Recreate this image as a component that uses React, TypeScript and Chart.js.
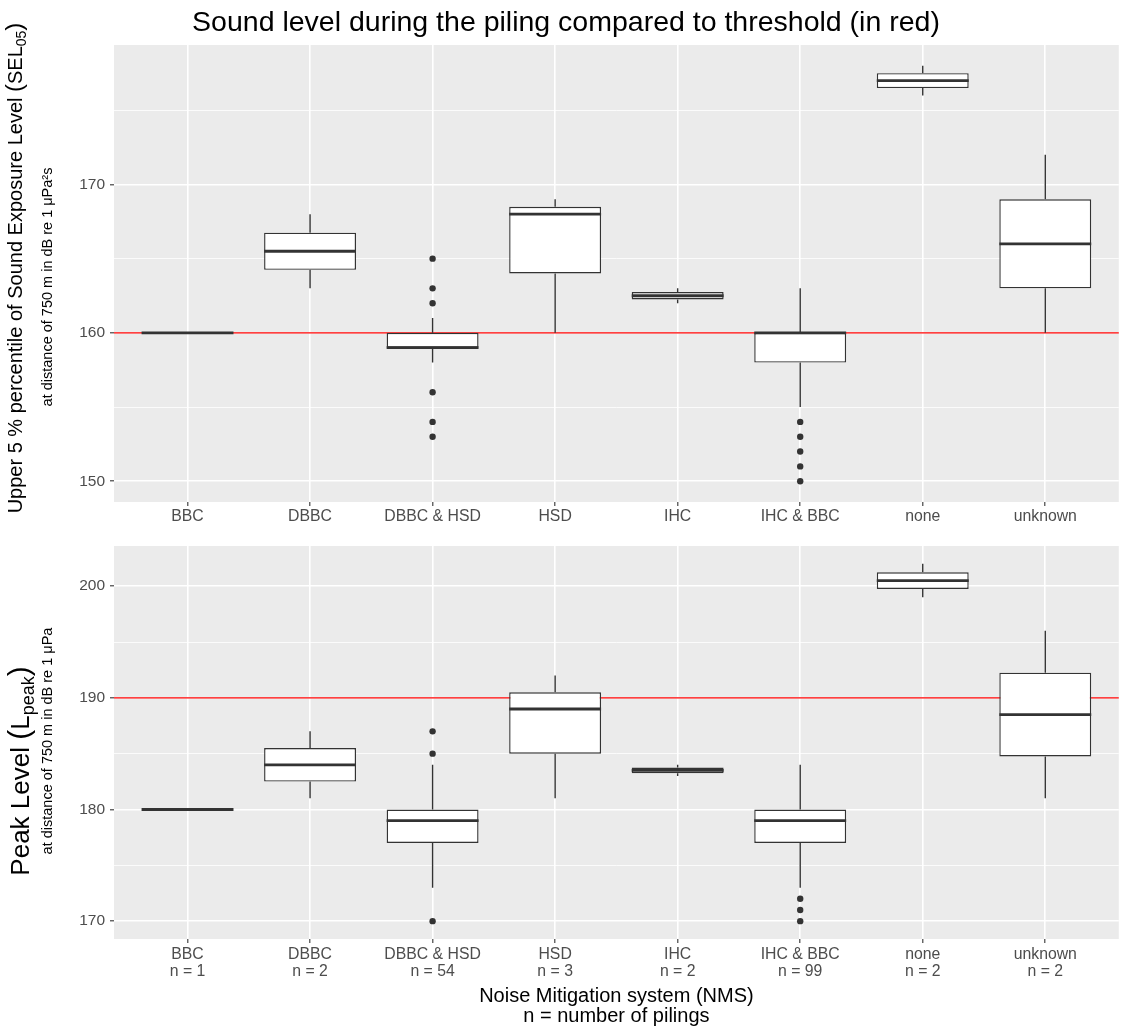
import React, { useEffect, useRef } from "react";
import { Chart, registerables } from "chart.js";

Chart.register(...registerables);

const FONT = '"Liberation Sans", Arial, Helvetica, sans-serif';

// ---------- data ----------
const categories = ["BBC", "DBBC", "DBBC & HSD", "HSD", "IHC", "IHC & BBC", "none", "unknown"];
const pilingCounts = [1, 2, 54, 3, 2, 99, 2, 2];

// Upper panel: SEL05 (dB re 1 µPa²s)
const selWhiskerLow = [160, 163, 158, 160, 162, 155, 176, 160];
const selQ1 = [160, 164.25, 159, 164, 162.25, 158, 176.5, 163];
const selMedian = [160, 165.5, 159, 168, 162.5, 160, 177, 166];
const selQ3 = [160, 166.75, 160, 168.5, 162.75, 160, 177.5, 169];
const selWhiskerHigh = [160, 168, 161, 169, 163, 163, 178, 172];
const selOutliers: number[][] = [[], [], [165, 163, 162, 156, 154, 153], [], [], [154, 153, 152, 151, 150], [], []];
const selThreshold = 160;
const selTicks = [150, 155, 160, 165, 170, 175];

// Lower panel: Lpeak (dB re 1 µPa)
const peakWhiskerLow = [180, 181, 173, 181, 183, 173, 199, 181];
const peakQ1 = [180, 182.5, 177, 185, 183.25, 177, 199.75, 184.75];
const peakMedian = [180, 184, 179, 189, 183.5, 179, 200.5, 188.5];
const peakQ3 = [180, 185.5, 180, 190.5, 183.75, 180, 201.25, 192.25];
const peakWhiskerHigh = [180, 187, 184, 192, 184, 184, 202, 196];
const peakOutliers: number[][] = [[], [], [187, 185, 170], [], [], [172, 171, 170], [], []];
const peakThreshold = 190;
const peakTicks = [170, 175, 180, 185, 190, 195, 200];

// ---------- helpers ----------
type Seg = { text: string; size: number; dy?: number };

function drawRich(ctx: CanvasRenderingContext2D, segs: Seg[], x: number, y: number, rotate: boolean, color = "#000000") {
  ctx.save();
  ctx.translate(x, y);
  if (rotate) ctx.rotate(-Math.PI / 2);
  ctx.textBaseline = "alphabetic";
  ctx.textAlign = "left";
  ctx.fillStyle = color;
  const widths = segs.map((s) => {
    ctx.font = `${s.size}px ${FONT}`;
    return ctx.measureText(s.text).width;
  });
  const total = widths.reduce((a, b) => a + b, 0);
  let cx = -total / 2;
  segs.forEach((s, i) => {
    ctx.font = `${s.size}px ${FONT}`;
    ctx.fillText(s.text, cx, s.dy || 0);
    cx += widths[i];
  });
  ctx.restore();
}

type Panel = {
  id: string;
  low: number[];
  q1: number[];
  med: number[];
  q3: number[];
  high: number[];
  outliers: number[][];
  threshold: number;
  ticks: number[];
  top: number;
  xAxisHeight: number;
  xPad: number;
  xLabel: (i: number) => string | string[];
  texts: (ctx: CanvasRenderingContext2D, chart: any) => void;
};

function makeChart(canvas: HTMLCanvasElement, p: Panel) {
  const all = [...p.low, ...p.high, ...p.outliers.flat()];
  const lo = Math.min(...all);
  const hi = Math.max(...all);
  const ex = (hi - lo) * 0.05;
  const n = categories.length;

  const boxData = categories.map((_, i) => ({ x: i + 1, y: [p.q1[i], p.q3[i]] }));
  const outlierData = p.outliers.flatMap((arr, i) => arr.map((v) => ({ x: i + 1, y: v })));

  const boxPlugin = {
    id: "boxplot-" + p.id,
    beforeDraw(chart: any) {
      const { ctx, chartArea: a } = chart;
      ctx.save();
      ctx.fillStyle = "#EBEBEB";
      ctx.fillRect(a.left, a.top, a.right - a.left, a.bottom - a.top);
      ctx.restore();
    },
    beforeDatasetsDraw(chart: any) {
      const { ctx, chartArea: a, scales } = chart;
      const xs = scales.x;
      const ys = scales.y;
      ctx.save();
      // threshold
      const ty = ys.getPixelForValue(p.threshold);
      ctx.strokeStyle = "#FF0000";
      ctx.lineWidth = 1.3;
      ctx.beginPath();
      ctx.moveTo(a.left, ty);
      ctx.lineTo(a.right, ty);
      ctx.stroke();
      // whiskers
      ctx.strokeStyle = "#333333";
      ctx.lineWidth = 1.4;
      for (let i = 0; i < n; i++) {
        const x = xs.getPixelForValue(i + 1);
        ctx.beginPath();
        ctx.moveTo(x, ys.getPixelForValue(p.high[i]));
        ctx.lineTo(x, ys.getPixelForValue(p.q3[i]));
        ctx.moveTo(x, ys.getPixelForValue(p.q1[i]));
        ctx.lineTo(x, ys.getPixelForValue(p.low[i]));
        ctx.stroke();
      }
      ctx.restore();
    },
    afterDatasetsDraw(chart: any) {
      const { ctx, scales } = chart;
      const xs = scales.x;
      const ys = scales.y;
      const meta = chart.getDatasetMeta(1);
      ctx.save();
      ctx.strokeStyle = "#333333";
      ctx.lineWidth = 2.8;
      ctx.lineCap = "butt";
      for (let i = 0; i < n; i++) {
        const bar = meta.data[i];
        const half = bar.width / 2;
        const x = xs.getPixelForValue(i + 1);
        const y = ys.getPixelForValue(p.med[i]);
        ctx.beginPath();
        ctx.moveTo(x - half, y);
        ctx.lineTo(x + half, y);
        ctx.stroke();
      }
      ctx.restore();
    },
    afterDraw(chart: any) {
      p.texts(chart.ctx, chart);
    },
  };

  return new Chart(canvas, {
    type: "bar",
    data: {
      datasets: [
        {
          type: "scatter",
          data: outlierData,
          pointRadius: 3.2,
          pointBackgroundColor: "#333333",
          pointBorderWidth: 0,
          pointHoverRadius: 3.2,
        } as any,
        {
          type: "bar",
          data: boxData as any,
          backgroundColor: "#FFFFFF",
          borderColor: "#333333",
          borderWidth: 1.4,
          borderSkipped: false,
          barPercentage: 0.75,
          categoryPercentage: 1,
        },
      ],
    },
    options: {
      responsive: false,
      maintainAspectRatio: false,
      animation: false,
      events: [],
      layout: { padding: { top: p.top, left: 0, right: 0, bottom: 0 } },
      plugins: {
        legend: { display: false },
        tooltip: { enabled: false },
        title: { display: false },
      },
      scales: {
        x: {
          type: "linear",
          offset: false,
          min: 0.4,
          max: n + 0.6,
          afterBuildTicks: (s: any) => {
            s.ticks = categories.map((_, i) => ({ value: i + 1 }));
          },
          afterFit: (s: any) => {
            s.height = p.xAxisHeight;
          },
          ticks: {
            autoSkip: false,
            maxRotation: 0,
            minRotation: 0,
            padding: p.xPad,
            color: "#4D4D4D",
            font: { family: FONT, size: 15.8, lineHeight: 1.1 },
            callback: (v: any) => p.xLabel(Math.round(Number(v)) - 1),
          },
          grid: {
            offset: false,
            color: "#FFFFFF",
            lineWidth: 1.6,
            tickColor: "#333333",
            tickLength: 4,
            tickWidth: 1.1,
          },
          border: { display: false },
        },
        y: {
          type: "linear",
          min: lo - ex,
          max: hi + ex,
          afterBuildTicks: (s: any) => {
            s.ticks = p.ticks.map((v) => ({ value: v }));
          },
          afterFit: (s: any) => {
            s.width = 114;
          },
          ticks: {
            padding: 5,
            color: "#4D4D4D",
            font: { family: FONT, size: 15.5 },
            callback: (v: any) => (Number(v) % 10 === 0 ? String(v) : ""),
          },
          grid: {
            color: "#FFFFFF",
            lineWidth: (c: any) => (c.tick && c.tick.value % 10 === 0 ? 1.6 : 0.8),
            tickColor: (c: any) => (c.tick && c.tick.value % 10 === 0 ? "#333333" : "rgba(0,0,0,0)"),
            tickLength: 4,
            tickWidth: 1.1,
          },
          border: { display: false },
        },
      },
    } as any,
    plugins: [boxPlugin],
  });
}

const TOP_H = 530;
const BOTTOM_H = 498;

export default function App() {
  const topRef = useRef<HTMLCanvasElement | null>(null);
  const botRef = useRef<HTMLCanvasElement | null>(null);

  useEffect(() => {
    if (!topRef.current || !botRef.current) return;
    const top = makeChart(topRef.current, {
      id: "sel",
      low: selWhiskerLow,
      q1: selQ1,
      med: selMedian,
      q3: selQ3,
      high: selWhiskerHigh,
      outliers: selOutliers,
      threshold: selThreshold,
      ticks: selTicks,
      top: 45,
      xAxisHeight: TOP_H - 502,
      xPad: 2,
      xLabel: (i) => categories[i] ?? "",
      texts: (ctx) => {
        drawRich(ctx, [{ text: "Sound level during the piling compared to threshold (in red)", size: 28.5 }], 566, 31, false);
        drawRich(
          ctx,
          [
            { text: "Upper 5 % percentile of Sound Exposure Level ", size: 20 },
            { text: "(", size: 24 },
            { text: "SEL", size: 20 },
            { text: "05", size: 14, dy: 4 },
            { text: ")", size: 24 },
          ],
          22,
          268,
          true
        );
        drawRich(ctx, [{ text: "at distance of 750 m in dB re 1 μPa²s", size: 14.5 }], 52, 287, true);
      },
    });
    const bottom = makeChart(botRef.current, {
      id: "peak",
      low: peakWhiskerLow,
      q1: peakQ1,
      med: peakMedian,
      q3: peakQ3,
      high: peakWhiskerHigh,
      outliers: peakOutliers,
      threshold: peakThreshold,
      ticks: peakTicks,
      top: 16,
      xAxisHeight: BOTTOM_H - 409,
      xPad: 3,
      xLabel: (i) => (categories[i] ? [categories[i], `n = ${pilingCounts[i]}`] : ""),
      texts: (ctx, chart) => {
        drawRich(
          ctx,
          [
            { text: "Peak Level ", size: 26 },
            { text: "(", size: 30 },
            { text: "L", size: 26 },
            { text: "peak", size: 18, dy: 5 },
            { text: ")", size: 30 },
          ],
          29,
          241,
          true
        );
        drawRich(ctx, [{ text: "at distance of 750 m in dB re 1 μPa", size: 14.5 }], 52, 211, true);
        const a = chart.chartArea;
        const cx = (a.left + a.right) / 2;
        drawRich(ctx, [{ text: "Noise Mitigation system (NMS)", size: 20 }], cx, 472, false);
        drawRich(ctx, [{ text: "n = number of pilings", size: 20 }], cx, 492, false);
      },
    });
    return () => {
      top.destroy();
      bottom.destroy();
    };
  }, []);

  return (
    <div
      style={{
        position: "absolute",
        left: 0,
        top: 0,
        width: 1122,
        height: 1028,
        background: "#FFFFFF",
        overflow: "hidden",
      }}
    >
      <canvas ref={topRef} width={1122} height={TOP_H} style={{ position: "absolute", left: 0, top: 0, width: 1122, height: TOP_H }} />
      <canvas ref={botRef} width={1122} height={BOTTOM_H} style={{ position: "absolute", left: 0, top: TOP_H, width: 1122, height: BOTTOM_H }} />
    </div>
  );
}
